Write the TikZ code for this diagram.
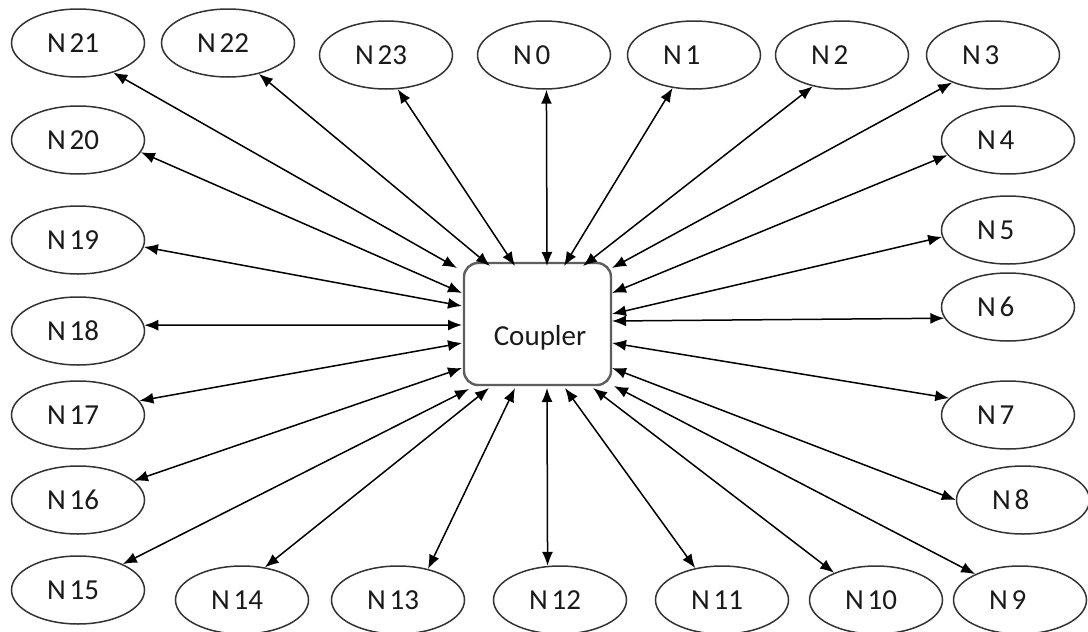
\documentclass[tikz,border=0pt]{standalone}
\usepackage{fontspec}
\newfontfamily\carl{Carlito}
\usetikzlibrary{arrows.meta,shapes.geometric}
\definecolor{elline}{HTML}{333333}
\definecolor{boxline}{HTML}{5E5E5E}
\definecolor{txt}{HTML}{1A1A1A}
\newcommand\nlab[1]{N\kern4pt #1}
\begin{document}
\begin{tikzpicture}[x=1pt,y=-1pt,
  nodeell/.style={ellipse, draw=elline, line width=1.5pt, minimum width=133pt, minimum height=68pt,
    inner sep=0pt, text width=62pt, align=left, text height=18.7pt, text depth=0pt,
    font=\carl\fontsize{29}{30}\selectfont, text=txt},
  couplerbox/.style={rectangle, rounded corners=14pt, draw=boxline, line width=2.4pt,
    minimum width=147pt, minimum height=122pt, inner sep=0pt},
  cplabel/.style={font=\carl\fontsize{29}{30}\selectfont, text=txt, inner sep=0pt, anchor=base},
  conn/.style={{Latex[length=14pt,width=11pt]}-{Latex[length=14pt,width=11pt]}, line width=1.5pt, black}]
\useasboundingbox (0,0) rectangle (1088,632);
\fill[white] (0,0) rectangle (1088,632);
% nodes
\node[nodeell] (n21) at (78,43) {\nlab{21}};
\node[nodeell] (n20) at (78,140) {\nlab{20}};
\node[nodeell] (n19) at (78,240) {\nlab{19}};
\node[nodeell] (n18) at (78,331) {\nlab{18}};
\node[nodeell] (n17) at (78,415) {\nlab{17}};
\node[nodeell] (n16) at (78,500) {\nlab{16}};
\node[nodeell] (n15) at (78,590) {\nlab{15}};
\node[nodeell] (n22) at (228,43) {\nlab{22}};
\node[nodeell] (n23) at (386,55) {\nlab{23}};
\node[nodeell] (n0) at (544,55) {\nlab{0}};
\node[nodeell] (n1) at (694,55) {\nlab{1}};
\node[nodeell] (n2) at (842,55) {\nlab{2}};
\node[nodeell] (n3) at (993,55) {\nlab{3}};
\node[nodeell] (n4) at (1008,140) {\nlab{4}};
\node[nodeell] (n5) at (1008,230) {\nlab{5}};
\node[nodeell] (n6) at (1008,307) {\nlab{6}};
\node[nodeell] (n7) at (1008,415) {\nlab{7}};
\node[nodeell] (n8) at (1023,500) {\nlab{8}};
\node[nodeell] (n9) at (1020,600) {\nlab{9}};
\node[nodeell] (n10) at (876,600) {\nlab{10}};
\node[nodeell] (n11) at (722,600) {\nlab{11}};
\node[nodeell] (n12) at (560,600) {\nlab{12}};
\node[nodeell] (n13) at (398,600) {\nlab{13}};
\node[nodeell] (n14) at (242,600) {\nlab{14}};
% coupler
\node[couplerbox] (cp) at (537.5,324) {};
\node[cplabel] (cptext) at (540,345) {Coupler};
% box-side end points
\coordinate (b21) at (457,268);
\coordinate (b22) at (490,266);
\coordinate (b23) at (515,266);
\coordinate (b0) at (547,266);
\coordinate (b1) at (564,266);
\coordinate (b2) at (583,266);
\coordinate (b3) at (612,268);
\coordinate (b4) at (612,293);
\coordinate (b5) at (612,314);
\coordinate (b6) at (612,321);
\coordinate (b7) at (612,343);
\coordinate (b8) at (612,368);
\coordinate (b9) at (614,386);
\coordinate (b10) at (593,388);
\coordinate (b11) at (565,388);
\coordinate (b12) at (547,388);
\coordinate (b13) at (515,388);
\coordinate (b14) at (489,388);
\coordinate (b15) at (469,389);
\coordinate (b16) at (462,368);
\coordinate (b17) at (462,343);
\coordinate (b18) at (462,325);
\coordinate (b19) at (462,306);
\coordinate (b20) at (462,293);
% connectors
\draw[conn] (n21.-40) -- (b21);
\draw[conn] (n22.-45) -- (b22);
\draw[conn] (n23.-71) -- (b23);
\draw[conn] (n0.-86) -- (b0);
\draw[conn] (n1.-123) -- (b1);
\draw[conn] (n2.-133) -- (b2);
\draw[conn] (n3.-146) -- (b3);
\draw[conn] (n4.-166) -- (b4);
\draw[conn] (n5.-174) -- (b5);
\draw[conn] (n6.-170) -- (b6);
\draw[conn] (n7.164) -- (b7);
\draw[conn] (n8.180) -- (b8);
\draw[conn] (n9.150) -- (b9);
\draw[conn] (n10.147) -- (b10);
\draw[conn] (n11.130) -- (b11);
\draw[conn] (n12.110) -- (b12);
\draw[conn] (n13.46) -- (b13);
\draw[conn] (n14.55) -- (b14);
\draw[conn] (n15.30) -- (b15);
\draw[conn] (n16.19) -- (b16);
\draw[conn] (n17.13) -- (b17);
\draw[conn] (n18.5) -- (b18);
\draw[conn] (n19.-6) -- (b19);
\draw[conn] (n20.-11) -- (b20);
\end{tikzpicture}
\end{document}
